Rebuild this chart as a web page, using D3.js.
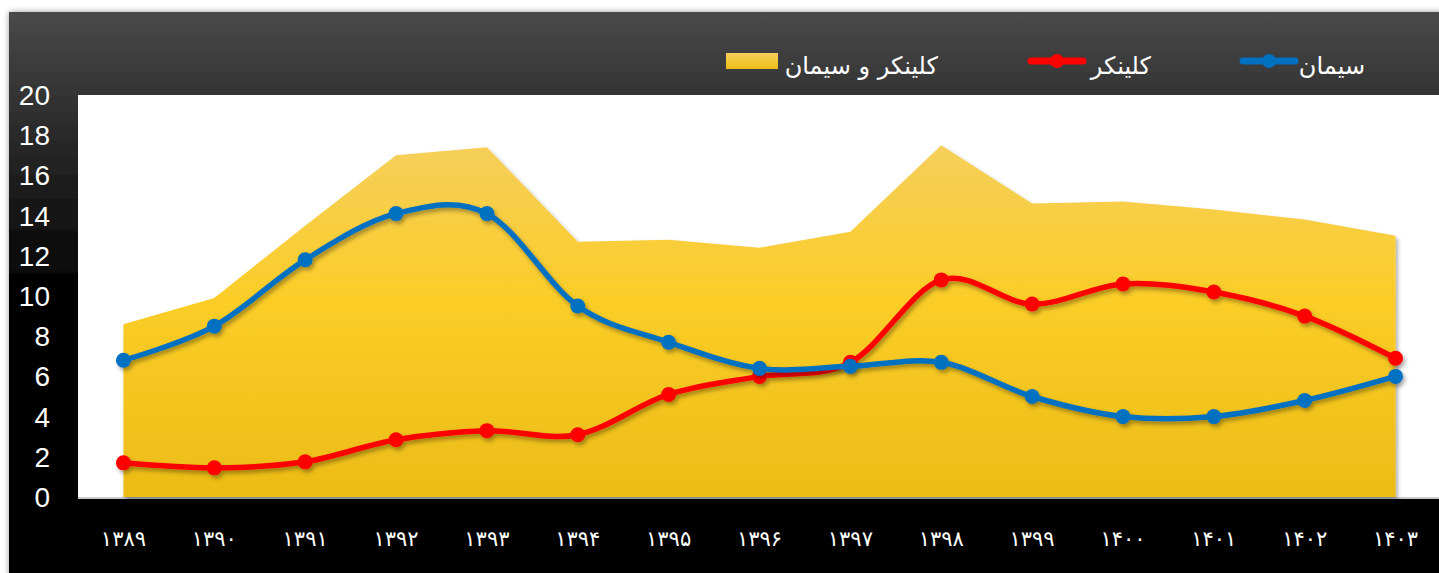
<!DOCTYPE html>
<html>
<head>
<meta charset="utf-8">
<script src="https://cdn.jsdelivr.net/npm/d3@7"></script>
<style>
  html, body { margin: 0; padding: 0; background: #fff; }
  #chart { width: 1439px; height: 573px; }
</style>
</head>
<body>
<div id="chart"></div>
<script>
// data
var years = ["۱۳۸۹", "۱۳۹۰", "۱۳۹۱", "۱۳۹۲", "۱۳۹۳", "۱۳۹۴", "۱۳۹۵", "۱۳۹۶",
             "۱۳۹۷", "۱۳۹۸", "۱۳۹۹", "۱۴۰۰", "۱۴۰۱", "۱۴۰۲", "۱۴۰۳"];
var total   = [8.6, 9.9, 13.5, 17.0, 17.4, 12.7, 12.8, 12.4, 13.2, 17.5, 14.6, 14.7, 14.3, 13.8, 13.0];
var cement  = [6.8, 8.5, 11.8, 14.1, 14.1, 9.5, 7.7, 6.4, 6.5, 6.7, 5.0, 4.0, 4.0, 4.8, 6.0];
var clinker = [1.7, 1.45, 1.75, 2.85, 3.3, 3.1, 5.1, 6.0, 6.7, 10.8, 9.6, 10.6, 10.2, 9.0, 6.9];
var yTicks  = [0, 2, 4, 6, 8, 10, 12, 14, 16, 18, 20];
var legendNames = ["کلینکر و سیمان", "کلینکر", "سیمان"];

var W = 1439, H = 573;
var svg = d3.select("#chart").append("svg")
  .attr("width", W).attr("height", H);

var defs = svg.append("defs");

// background gradient
var bg = defs.append("linearGradient").attr("id", "bg")
  .attr("x1", 0).attr("y1", 0).attr("x2", 0).attr("y2", 1);
bg.append("stop").attr("offset", "0%").attr("stop-color", "#494949");
bg.append("stop").attr("offset", "50%").attr("stop-color", "#000");
bg.append("stop").attr("offset", "100%").attr("stop-color", "#000");

var areaGrad = defs.append("linearGradient").attr("id", "areaGrad")
  .attr("gradientUnits", "userSpaceOnUse")
  .attr("x1", 0).attr("y1", 140).attr("x2", 0).attr("y2", 497);
areaGrad.append("stop").attr("offset", "0%").attr("stop-color", "#F5CF5C");
areaGrad.append("stop").attr("offset", "45%").attr("stop-color", "#FBCD27");
areaGrad.append("stop").attr("offset", "100%").attr("stop-color", "#ECBC17");

var swGrad = defs.append("linearGradient").attr("id", "swGrad")
  .attr("x1", 0).attr("y1", 0).attr("x2", 0).attr("y2", 1);
swGrad.append("stop").attr("offset", "0%").attr("stop-color", "#F5CF5C");
swGrad.append("stop").attr("offset", "100%").attr("stop-color", "#EDBD16");

var shadow = defs.append("filter").attr("id", "shadow")
  .attr("x", "-5%").attr("y", "-20%").attr("width", "110%").attr("height", "140%");
shadow.append("feDropShadow").attr("dx", 2).attr("dy", 3)
  .attr("stdDeviation", 2).attr("flood-color", "#000").attr("flood-opacity", 0.35);

var frameShadow = defs.append("filter").attr("id", "frameShadow")
  .attr("x", "-2%").attr("y", "-2%").attr("width", "104%").attr("height", "104%");
frameShadow.append("feDropShadow").attr("dx", 0).attr("dy", 0)
  .attr("stdDeviation", 3).attr("flood-color", "#000").attr("flood-opacity", 0.4);

// outer frame
svg.append("rect")
  .attr("x", 9).attr("y", 12).attr("width", W).attr("height", H)
  .attr("fill", "url(#bg)")
  .attr("filter", "url(#frameShadow)");

// plot area
var plot = { left: 78, right: 1441, top: 95, bottom: 497 };
svg.append("rect")
  .attr("x", plot.left).attr("y", plot.top)
  .attr("width", W - plot.left).attr("height", plot.bottom - plot.top)
  .attr("fill", "#fff");
svg.append("line")
  .attr("x1", plot.left).attr("x2", W)
  .attr("y1", plot.bottom + 1).attr("y2", plot.bottom + 1)
  .attr("stroke", "#c8c8c8").attr("stroke-width", 2);

var x = d3.scalePoint().domain(years).range([plot.left, plot.right]).padding(0.5);
var y = d3.scaleLinear().domain([0, 20]).range([plot.bottom, plot.top]);

// area
var area = d3.area()
  .x(function (d, i) { return x(years[i]); })
  .y0(y(0))
  .y1(function (d) { return y(d); });

svg.append("path")
  .datum(total)
  .attr("d", area)
  .attr("fill", "url(#areaGrad)")
  .attr("filter", "url(#shadow)");

// lines
var line = d3.line()
  .x(function (d, i) { return x(years[i]); })
  .y(function (d) { return y(d); })
  .curve(d3.curveCardinal);

function drawSeries(values, color) {
  var g = svg.append("g").attr("filter", "url(#shadow)");
  g.append("path")
    .datum(values)
    .attr("d", line)
    .attr("fill", "none")
    .attr("stroke", color)
    .attr("stroke-width", 5.5)
    .attr("stroke-linecap", "round");
  g.selectAll("circle")
    .data(values)
    .enter()
    .append("circle")
    .attr("cx", function (d, i) { return x(years[i]); })
    .attr("cy", function (d) { return y(d); })
    .attr("r", 7.5)
    .attr("fill", color);
}
drawSeries(clinker, "#FF0000");
drawSeries(cement, "#0070C0");

// y axis labels
svg.append("g").selectAll("text")
  .data(yTicks)
  .enter()
  .append("text")
  .attr("x", 50)
  .attr("y", function (d) { return y(d); })
  .attr("dy", "0.36em")
  .attr("text-anchor", "end")
  .attr("fill", "#fff")
  .style("font-family", "'Liberation Sans', Arial, sans-serif")
  .style("font-size", "28px")
  .text(function (d) { return d; });

// x axis labels
svg.append("g").selectAll("text")
  .data(years)
  .enter()
  .append("text")
  .attr("x", function (d) { return x(d); })
  .attr("y", 546)
  .attr("text-anchor", "middle")
  .attr("fill", "#fff")
  .style("font-family", "'DejaVu Sans', sans-serif")
  .style("font-size", "21px")
  .style("letter-spacing", "1px")
  .text(function (d) { return d; });

// legend
var legend = svg.append("g")
  .style("font-family", "'DejaVu Sans', sans-serif")
  .style("font-size", "24px")
  .attr("fill", "#fff");

// area swatch
legend.append("rect")
  .attr("x", 726).attr("y", 53).attr("width", 52).attr("height", 16)
  .attr("fill", "url(#swGrad)");
legend.append("text")
  .attr("x", 938).attr("y", 74).attr("text-anchor", "end")
  .attr("fill", "#fff")
  .text(legendNames[0]);

function legendLine(x0, color, label, textRight) {
  legend.append("line")
    .attr("x1", x0).attr("x2", x0 + 52).attr("y1", 61).attr("y2", 61)
    .attr("stroke", color).attr("stroke-width", 7).attr("stroke-linecap", "round");
  legend.append("circle")
    .attr("cx", x0 + 26).attr("cy", 61).attr("r", 7).attr("fill", color);
  legend.append("text")
    .attr("x", textRight).attr("y", 74).attr("text-anchor", "end")
    .attr("fill", "#fff")
    .text(label);
}
legendLine(1031, "#FF0000", legendNames[1], 1151);
legendLine(1243, "#0070C0", legendNames[2], 1365);
</script>
</body>
</html>
